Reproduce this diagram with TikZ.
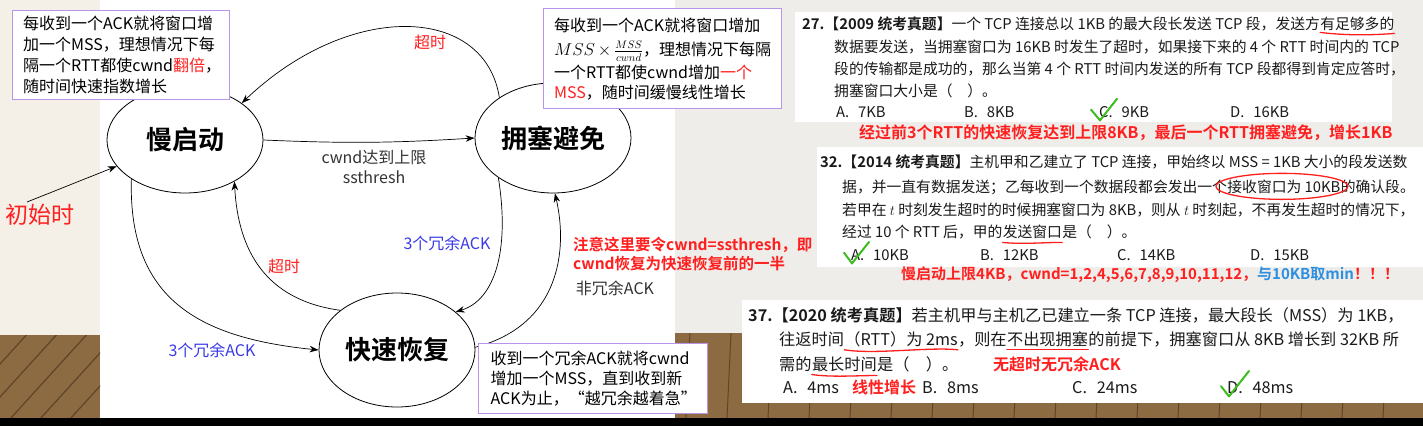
\documentclass[tikz,border=0pt]{standalone}
\usepackage{fontspec}
\setmainfont{Noto Sans CJK SC}[BoldFont={Noto Sans CJK SC Bold}]
\usetikzlibrary{arrows.meta,shapes.geometric}
\definecolor{notered}{HTML}{FF1F1F}
\definecolor{ackblue}{HTML}{3A3AE8}
\definecolor{minblue}{HTML}{2E8FE0}
\definecolor{boxpurple}{HTML}{B995EA}
\definecolor{labelgray}{HTML}{333333}
\definecolor{qblack}{HTML}{1A1A1A}
\definecolor{leftbeige}{HTML}{F4F0E8}
\definecolor{rightbg}{HTML}{EFEDE9}
\definecolor{wood}{HTML}{8C6B43}
\definecolor{wooddark}{HTML}{5E4527}
\definecolor{checkgreen}{HTML}{3DBB1F}
\begin{document}
\begin{tikzpicture}[x=1pt, y=-1pt,
    state/.style={ellipse, draw, line width=0.8pt, inner sep=0pt,
                  font=\fontsize{26}{26}\selectfont\bfseries},
    trans/.style={-{Stealth[length=9pt,width=6.5pt]}, line width=0.7pt},
    notebox/.style={draw=boxpurple, line width=1.3pt, fill=white, anchor=north west,
                    align=left, inner xsep=10.5pt, inner ysep=0pt,
                    font=\fontsize{16}{21}\selectfont},
    lbl/.style={inner sep=0pt, font=\fontsize{16}{16}\selectfont},
    qtext/.style={anchor=base west, inner sep=0pt, text=qblack,
                  font=\fontsize{14.8}{14.8}\selectfont},
    qbig/.style={qtext, font=\fontsize{16.2}{16.2}\selectfont},
    qnote/.style={anchor=base west, inner sep=0pt, text=notered,
                  font=\fontsize{16}{16}\selectfont\bfseries},
    pen/.style={notered, line width=1.3pt, line cap=round},
    tick/.style={checkgreen, line width=2pt, line cap=round, line join=round}]

  % backgrounds
  \useasboundingbox (0,0) rectangle (1423,426);
  \fill[white] (0,0) rectangle (1423,426);
  \fill[leftbeige] (0,0) rectangle (100,335);
  \fill[rightbg] (675,0) rectangle (1423,333);
  \fill[wood] (0,335) rectangle (100,418);
  \fill[wood] (675,333) rectangle (1423,418);
  \begin{scope}
    \clip (0,335) rectangle (100,418);
    \foreach \k in {0,...,7}
      \draw[wooddark, line width=1.2pt] (-60+\k*30,430) -- (40+\k*30,320);
  \end{scope}
  \begin{scope}
    \clip (675,333) rectangle (1423,418);
    \foreach \k in {0,...,18}
      \draw[wooddark, line width=1pt] (690+\k*41,333) -- (686+\k*41,418);
  \end{scope}
  \fill[black] (0,418) rectangle (1423,426);

  % exam panels
  \fill[white] (795,12) rectangle (1392,122);
  \fill[white] (817,147) rectangle (1423,267);
  \fill[white] (742,300) rectangle (1423,403);

  % states
  \node[state, minimum width=156pt, minimum height=106pt] (slow)  at (185,140) {慢启动};
  \node[state, minimum width=156pt, minimum height=110pt] (avoid) at (553,138) {拥塞避免};
  \node[state, minimum width=156pt, minimum height=114pt] (fast)  at (397,350) {快速恢复};

  % transitions
  \coordinate (start) at (27,202);
  \draw[trans] (start) -- (slow.201);
  \draw[trans] (slow.east) to[bend right=3] (avoid.west);
  \draw[trans] (avoid.143) .. controls (485,5) and (350,0) .. (slow.33);
  \draw[trans] (slow.216) .. controls (128,300) and (200,338) .. (fast.west);
  \draw[trans] (fast.145) .. controls (265,300) and (238,250) .. (slow.-40);
  \draw[trans] (avoid.216) .. controls (510,250) and (495,300) .. (fast.33);
  \draw[trans] (fast.2) .. controls (560,325) and (568,250) .. (avoid.-88);

  % transition labels
  \node[lbl, text=notered, font=\fontsize{23}{23}\selectfont] (initlbl) at (40,215) {初始时};
  \node[lbl, text=labelgray, align=center, font=\fontsize{16}{20}\selectfont] (limitlbl) at (374,167) {cwnd达到上限\\ssthresh};
  \node[lbl, text=notered] (timeouttop) at (430,42) {超时};
  \node[lbl, text=notered] (timeoutlow) at (284,266) {超时};
  \node[lbl, text=ackblue] (dupright) at (447,243) {3个冗余ACK};
  \node[lbl, text=ackblue] (dupleft) at (212,350) {3个冗余ACK};
  \node[lbl, text=labelgray] (newack) at (615,288) {非冗余ACK};
  \node[qnote, anchor=west, align=left, font=\fontsize{15.5}{19}\selectfont\bfseries] (remark) at (573,254)
    {注意这里要令cwnd=ssthresh，即\\cwnd恢复为快速恢复前的一半};

  % explanation boxes
  \node[notebox, minimum width=217pt, minimum height=89pt, text width=196pt] (slownote) at (12,10)
    {每收到一个ACK就将窗口增\\加一个MSS，理想情况下每\\隔一个RTT都使cwnd\textcolor{notered}{翻倍}，\\随时间快速指数增长};
  \node[notebox, minimum width=238pt, minimum height=100pt, text width=217pt, font=\fontsize{16}{20}\selectfont] (avoidnote) at (543,8)
    {每收到一个ACK就将窗口增加\\[4pt]$MSS\times\frac{MSS}{cwnd}$，理想情况下每隔\\[3pt]一个RTT都使cwnd增加\textcolor{notered}{一个}\\\textcolor{notered}{MSS}，随时间缓慢线性增长};
  \node[notebox, minimum width=229pt, minimum height=70pt, text width=205pt, inner xsep=12pt,
        font=\fontsize{16}{20}\selectfont] (fastnote) at (478,343)
    {收到一个冗余ACK就将cwnd\\增加一个MSS，直到收到新\\ACK为止，“越冗余越着急”};

  % question 27
  \node[qtext] (q27a) at (802,29) {\textbf{27.【2009 统考真题】}一个 TCP 连接总以 1KB 的最大段长发送 TCP 段，发送方};
  \node[qtext] (q27hl) at (q27a.base east) {有足够多的};
  \node[qtext] (q27b) at (834,52) {数据要发送，当拥塞窗口为 16KB 时发生了超时，如果接下来的 4 个 RTT 时间内的 TCP};
  \node[qtext] (q27c) at (834,74) {段的传输都是成功的，那么当第 4 个 RTT 时间内发送的所有 TCP 段都得到肯定应答时，};
  \node[qtext] (q27d) at (834,96) {拥塞窗口大小是（\quad）。};
  \node[qtext] (q27optA) at (836,117) {A.\hspace{0.6em}7KB};
  \node[qtext] (q27optB) at (964,117) {B.\hspace{0.6em}8KB};
  \node[qtext] (q27optC) at (1099,117) {C.\hspace{0.6em}9KB};
  \node[qtext] (q27optD) at (1230,117) {D.\hspace{0.6em}16KB};
  \node[qnote] (q27ans) at (859,138) {经过前3个RTT的快速恢复达到上限8KB，最后一个RTT拥塞避免，增长1KB};
  \draw[pen] ([yshift=-2pt]q27hl.south west) .. controls +(25,3) and +(-25,2) .. ([yshift=-3pt]q27hl.south east);
  \draw[tick] ([xshift=-8pt,yshift=2pt]q27optC.west) -- ([xshift=1pt,yshift=-3pt]q27optC.south west) -- ([xshift=18pt,yshift=7pt]q27optC.north west);

  % question 32
  \node[qtext] (q32a) at (820,167) {\textbf{32.【2014 统考真题】}主机甲和乙建立了 TCP 连接，甲始终以 MSS = 1KB 大小的段发送数};
  \node[qtext] (q32b) at (842,192) {据，并一直有数据发送；乙每收到一个数据段都会发出一个};
  \node[qtext] (q32hl) at (q32b.base east) {接收窗口为 10KB};
  \node[qtext] (q32b2) at (q32hl.base east) {的确认段。};
  \node[qtext] (q32c) at (842,215) {若甲在 $t$ 时刻发生超时的时候拥塞窗口为 8KB，则从 $t$ 时刻起，不再发生超时的情况下，};
  \node[qtext] (q32d) at (842,237) {经过 10 个 RTT 后，甲的};
  \node[qtext] (q32w) at (q32d.base east) {发送窗口};
  \node[qtext] (q32d2) at (q32w.base east) {是（\quad）。};
  \node[qtext] (q32optA) at (851,260) {A.\hspace{0.6em}10KB};
  \node[qtext] (q32optB) at (980,260) {B.\hspace{0.6em}12KB};
  \node[qtext] (q32optC) at (1117,260) {C.\hspace{0.6em}14KB};
  \node[qtext] (q32optD) at (1250,260) {D.\hspace{0.6em}15KB};
  \node[qnote, font=\fontsize{15}{15}\selectfont\bfseries] (q32ans) at (901,279) {慢启动上限4KB，cwnd=1,2,4,5,6,7,8,9,10,11,12，\textcolor{minblue}{与10KB取min}！！！};
  \draw[pen] ([xshift=-2pt]q32hl.center) ellipse (66pt and 13pt);
  \draw[pen] ([yshift=-4pt]q32w.south west) .. controls +(20,2) and +(-20,0) .. ([yshift=-4pt]q32w.south east);
  \draw[tick] ([xshift=-7pt,yshift=2pt]q32optA.west) -- ([xshift=1pt,yshift=-3pt]q32optA.south west) -- ([xshift=18pt,yshift=7pt]q32optA.north west);

  % question 37
  \node[qbig] (q37a) at (748,321) {\textbf{37.【2020 统考真题】}若主机甲与主机乙已建立一条 TCP 连接，最大段长（MSS）为 1KB，};
  \node[qbig] (q37b) at (779,345) {往返时间};
  \node[qbig] (q37r) at (q37b.base east) {（RTT）为 2ms};
  \node[qbig] (q37b2) at (q37r.base east) {，则在};
  \node[qbig] (q37cong) at (q37b2.base east) {不出现拥塞};
  \node[qbig] (q37b3) at (q37cong.base east) {的前提下，拥塞窗口从 8KB 增长到 32KB 所};
  \node[qbig] (q37c) at (779,370) {需的};
  \node[qbig] (q37t) at (q37c.base east) {最长时间};
  \node[qbig] (q37c2) at (q37t.base east) {是（\quad）。};
  \node[qnote] (q37hint) at (993,370) {无超时无冗余ACK};
  \node[qbig] (q37optA) at (783,393) {A.\hspace{0.6em}4ms};
  \node[qnote] (q37lin) at (852,393) {线性增长};
  \node[qbig] (q37optB) at (922,393) {B.\hspace{0.6em}8ms};
  \node[qbig] (q37optC) at (1072,393) {C.\hspace{0.6em}24ms};
  \node[qbig] (q37optD) at (1227,393) {D.\hspace{0.6em}48ms};
  \draw[pen] ([yshift=-3pt]q37r.south west) .. controls +(30,5) and +(-30,-3) .. ([yshift=-3pt]q37r.south east);
  \draw[pen] ([yshift=-3pt]q37cong.south west) -- ([yshift=-3pt]q37cong.south east);
  \draw[pen] ([yshift=-3pt]q37t.south west) .. controls +(20,3) and +(-20,0) .. ([yshift=-4pt]q37t.south east);
  \draw[tick] ([xshift=-6pt,yshift=1pt]q37optD.west) -- ([xshift=2pt,yshift=-3pt]q37optD.south west) -- ([xshift=22pt,yshift=10pt]q37optD.north west);
\end{tikzpicture}
\end{document}
